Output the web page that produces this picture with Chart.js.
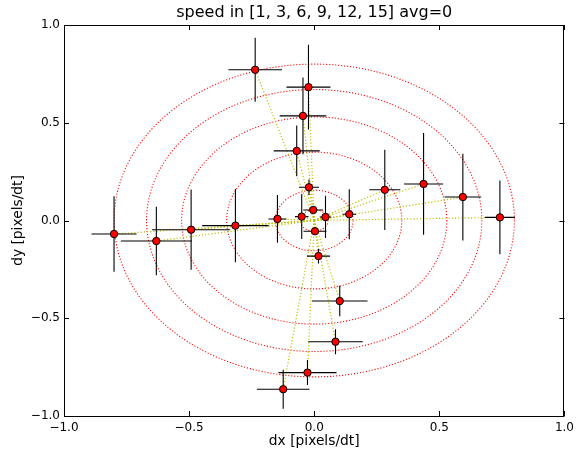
<!DOCTYPE html>
<html>
<head>
<meta charset="utf-8">
<script src="https://cdn.jsdelivr.net/npm/chart.js@4"></script>
<style>
  body { margin: 0; background: #fff; }
  canvas { display: block; }
</style>
</head>
<body>
<canvas id="myChart" width="579" height="454"></canvas>
<script>
// measured velocities (dx, dy) and their errors
const dx = [-0.236, -0.023, -0.045, -0.07, -0.021, 0.282, 0.437, 0.594, 0.742,
            -0.80, -0.631, -0.492, -0.315, -0.147, -0.05, -0.004, 0.045, 0.14,
            0.003, 0.017, 0.102, 0.085, -0.027, -0.124];
const dy = [0.771, 0.682, 0.535, 0.356, 0.170, 0.157, 0.187, 0.12, 0.016,
            -0.069, -0.105, -0.047, -0.026, 0.008, 0.02, 0.054, 0.018, 0.032,
            -0.055, -0.182, -0.412, -0.62, -0.778, -0.863];
const xerr = [0.107, 0.088, 0.093, 0.092, 0.04, 0.062, 0.078, 0.073, 0.06,
              0.09, 0.142, 0.156, 0.133, 0.036, 0.027, 0.04, 0.023, 0.027,
              0.046, 0.046, 0.111, 0.109, 0.116, 0.105];
const yerr = [0.164, 0.217, 0.196, 0.13, 0.04, 0.205, 0.26, 0.222, 0.188,
              0.193, 0.175, 0.205, 0.187, 0.122, 0.115, 0.01, 0.108, 0.128,
              0.015, 0.038, 0.078, 0.064, 0.064, 0.10];
// expected-speed rings
const radii = [0.055, 0.155, 0.35, 0.53, 0.67, 0.80];
const tickValues = [-1, -0.5, 0, 0.5, 1];

const titleText = 'speed in [1, 3, 6, 9, 12, 15] avg=0';
const xLabel = 'dx [pixels/dt]';
const yLabel = 'dy [pixels/dt]';

const FONT = "'DejaVu Sans', sans-serif";

const fmt = v => (v < 0 ? '\u2212' : '') + Math.abs(v).toFixed(1);

const overlay = {
  id: 'overlay',
  beforeDatasetsDraw(chart) {
    const ctx = chart.ctx;
    const xs = chart.scales.x, ys = chart.scales.y;
    const a = chart.chartArea;
    ctx.save();
    ctx.beginPath();
    ctx.rect(a.left, a.top, a.right - a.left, a.bottom - a.top);
    ctx.clip();

    // red dotted rings
    ctx.strokeStyle = '#ff0000';
    ctx.lineWidth = 1.1;
    ctx.setLineDash([1.1, 1.9]);
    const cx = xs.getPixelForValue(0), cy = ys.getPixelForValue(0);
    radii.forEach(r => {
      const rx = xs.getPixelForValue(r) - cx;
      const ry = cy - ys.getPixelForValue(r);
      ctx.beginPath();
      ctx.ellipse(cx, cy, rx, ry, 0, 0, Math.PI * 2);
      ctx.stroke();
    });

    // yellow dotted lines from origin to each point
    ctx.strokeStyle = 'rgb(191,191,0)';
    ctx.lineWidth = 1.2;
    ctx.setLineDash([1.2, 2]);
    dx.forEach((v, i) => {
      ctx.beginPath();
      ctx.moveTo(cx, cy);
      ctx.lineTo(xs.getPixelForValue(v), ys.getPixelForValue(dy[i]));
      ctx.stroke();
    });

    // error bars
    ctx.setLineDash([]);
    ctx.strokeStyle = '#000';
    ctx.lineWidth = 1.1;
    dx.forEach((v, i) => {
      const px = xs.getPixelForValue(v), py = ys.getPixelForValue(dy[i]);
      ctx.beginPath();
      ctx.moveTo(xs.getPixelForValue(v - xerr[i]), py);
      ctx.lineTo(xs.getPixelForValue(v + xerr[i]), py);
      ctx.moveTo(px, ys.getPixelForValue(dy[i] - yerr[i]));
      ctx.lineTo(px, ys.getPixelForValue(dy[i] + yerr[i]));
      ctx.stroke();
    });
    ctx.restore();
  },
  afterDraw(chart) {
    const ctx = chart.ctx;
    const xs = chart.scales.x, ys = chart.scales.y;
    const a = chart.chartArea;
    ctx.save();
    // frame
    ctx.strokeStyle = '#000';
    ctx.lineWidth = 1;
    ctx.strokeRect(Math.round(a.left) + 0.5, Math.round(a.top) + 0.5,
                   Math.round(a.right - a.left) - 1, Math.round(a.bottom - a.top));
    // inward tick marks on all four sides
    const tl = 5;
    ctx.beginPath();
    tickValues.forEach(t => {
      const px = Math.round(xs.getPixelForValue(t)) + 0.5;
      ctx.moveTo(px, a.bottom); ctx.lineTo(px, a.bottom - tl);
      ctx.moveTo(px, a.top); ctx.lineTo(px, a.top + tl);
      const py = Math.round(ys.getPixelForValue(t)) + 0.5;
      ctx.moveTo(a.left, py); ctx.lineTo(a.left + tl, py);
      ctx.moveTo(a.right, py); ctx.lineTo(a.right - tl, py);
    });
    ctx.stroke();

    // title and axis labels
    ctx.fillStyle = '#000';
    ctx.textAlign = 'center';
    ctx.textBaseline = 'middle';
    ctx.font = '16px ' + FONT;
    ctx.fillText(titleText, (a.left + a.right) / 2, 13);
    ctx.font = '13.8px ' + FONT;
    ctx.fillText(xLabel, (a.left + a.right) / 2, 441);
    ctx.translate(18, (a.top + a.bottom) / 2);
    ctx.rotate(-Math.PI / 2);
    ctx.fillText(yLabel, 0, 0);
    ctx.restore();
  }
};

const data = {
  datasets: [{
    data: dx.map((v, i) => ({ x: v, y: dy[i] })),
    backgroundColor: '#ff0000',
    borderColor: '#000',
    borderWidth: 1,
    pointRadius: 3.7,
    pointHoverRadius: 3.7
  }]
};

const axisCommon = {
  type: 'linear',
  min: -1,
  max: 1,
  grid: { display: false, drawTicks: false },
  border: { display: false },
  ticks: {
    stepSize: 0.5,
    color: '#000',
    font: { family: FONT, size: 12 },
    callback: v => fmt(v)
  }
};

const config = {
  type: 'scatter',
  data: data,
  options: {
    responsive: false,
    animation: false,
    devicePixelRatio: 1,
    layout: { padding: { top: 25, right: 12, left: 0, bottom: 0 } },
    plugins: { legend: { display: false }, tooltip: { enabled: false } },
    scales: {
      x: Object.assign({}, axisCommon, {
        ticks: Object.assign({}, axisCommon.ticks, { padding: 5, maxRotation: 0 }),
        afterFit: s => { s.height = 38; }
      }),
      y: Object.assign({}, axisCommon, {
        ticks: Object.assign({}, axisCommon.ticks, { padding: 4 }),
        afterFit: s => { s.width = 64; }
      })
    }
  },
  plugins: [overlay]
};

const myChart = new Chart(document.getElementById('myChart'), config);
</script>
</body>
</html>
